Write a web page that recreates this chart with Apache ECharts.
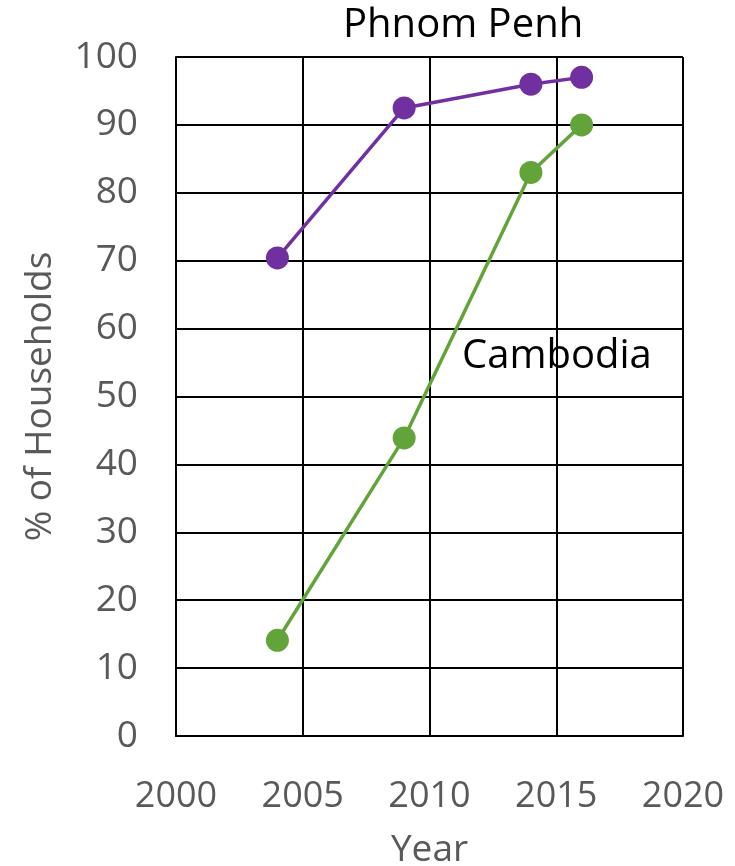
<!DOCTYPE html>
<html>
<head>
<meta charset="utf-8">
<script src="https://cdn.jsdelivr.net/npm/echarts@6/dist/echarts.min.js"></script>
<style>
  html, body { margin: 0; padding: 0; background: #fff; }
  #chart { width: 735px; height: 866px; }
</style>
</head>
<body>
<div id="chart"></div>
<script>
// Survey years and share of households (%)
const years = [2004, 2009, 2014, 2016];
const phnomPenh = [70.4, 92.5, 96.0, 97.0];
const cambodia = [14.1, 43.9, 83.0, 90.0];
const seriesNames = ['Phnom Penh', 'Cambodia'];

const FONT = '"Open Sans", "Noto Sans", sans-serif';
const GREY = '#595959';

const pairs = (ys) => years.map((x, i) => [x, ys[i]]);

const chart = echarts.init(document.getElementById('chart'));
chart.setOption({
  animation: false,
  backgroundColor: '#ffffff',
  grid: { left: 176, right: 52, top: 57, bottom: 130, containLabel: false, outerBoundsMode: 'none' },
  xAxis: {
    type: 'value', min: 2000, max: 2020, interval: 5,
    name: 'Year', nameLocation: 'middle', nameGap: 96,
    nameTextStyle: { fontFamily: FONT, fontSize: 37, color: GREY },
    axisLine: { show: true, lineStyle: { color: '#000', width: 2 } },
    axisTick: { show: false },
    axisLabel: { margin: 43, fontFamily: FONT, fontSize: 36, color: GREY, formatter: (v) => String(v) },
    splitLine: { show: true, lineStyle: { color: '#000', width: 2 } }
  },
  yAxis: {
    type: 'value', min: 0, max: 100, interval: 10,
    name: '% of Households', nameLocation: 'middle', nameGap: 117, nameRotate: 90,
    nameTextStyle: { fontFamily: FONT, fontSize: 37, color: GREY },
    axisLine: { show: true, lineStyle: { color: '#000', width: 2 } },
    axisTick: { show: false },
    axisLabel: { margin: 38, fontFamily: FONT, fontSize: 37, color: GREY },
    splitLine: { show: true, lineStyle: { color: '#000', width: 2 } }
  },
  series: [
    {
      name: seriesNames[0], type: 'line', data: pairs(phnomPenh),
      symbol: 'circle', symbolSize: 23,
      lineStyle: { color: '#7030A0', width: 3.5 },
      itemStyle: { color: '#7030A0' }
    },
    {
      name: seriesNames[1], type: 'line', data: pairs(cambodia),
      symbol: 'circle', symbolSize: 23,
      lineStyle: { color: '#62A33A', width: 3.5 },
      itemStyle: { color: '#62A33A' }
    }
  ],
  graphic: [
    {
      type: 'text', left: 343, top: 6,
      style: { text: seriesNames[0], font: '40px ' + FONT, fill: '#000' }
    },
    {
      type: 'text', left: 462, top: 337,
      style: { text: seriesNames[1], font: '40px ' + FONT, fill: '#000' }
    }
  ]
});
</script>
</body>
</html>
